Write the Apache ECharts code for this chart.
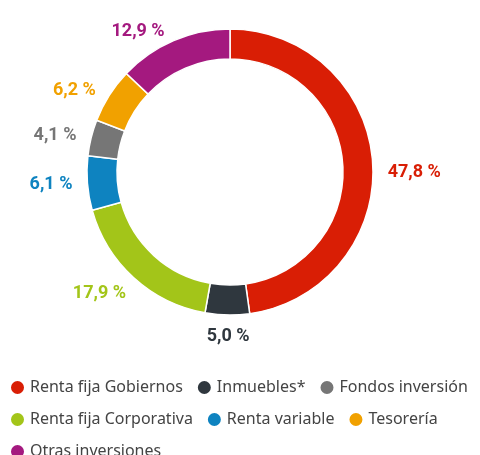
<!DOCTYPE html>
<html>
<head>
<meta charset="utf-8">
<script src="https://cdn.jsdelivr.net/npm/echarts@6/dist/echarts.min.js"></script>
<style>
  html, body { margin: 0; padding: 0; background: #fff; }
  #main { width: 480px; height: 455px; }
</style>
</head>
<body>
<div id="main"></div>
<script>
// categories in the order they go round the ring (clockwise from top)
var categories = ["Renta fija Gobiernos", "Inmuebles*", "Renta fija Corporativa", "Renta variable", "Fondos inversión", "Tesorería", "Otras inversiones"];
var values = [47.8, 5.0, 17.9, 6.1, 4.1, 6.2, 12.9];
var colors = ["#d91e05", "#2f373e", "#a3c519", "#0e83c0", "#767676", "#f1a100", "#a4197f"];
// legend order as printed under the chart
var legendOrder = ["Renta fija Gobiernos", "Inmuebles*", "Fondos inversión", "Renta fija Corporativa", "Renta variable", "Tesorería", "Otras inversiones"];

var chart = echarts.init(document.getElementById("main"));

var data = categories.map(function (name, i) {
  return {
    name: name,
    value: values[i],
    itemStyle: { color: colors[i] },
    label: { color: colors[i] }
  };
});

chart.setOption({
  animation: false,
  legend: {
    data: legendOrder,
    left: 9,
    top: 378,
    width: 480,
    icon: "circle",
    itemWidth: 15,
    itemHeight: 15,
    itemGap: 13,
    textStyle: {
      fontFamily: "Noto Sans",
      fontSize: 16,
      lineHeight: 19,
      color: "#444"
    },
    padding: 0
  },
  series: [
    {
      type: "pie",
      center: [230, 172],
      radius: [113, 143],
      startAngle: 90,
      clockwise: true,
      itemStyle: {
        borderColor: "#fff",
        borderWidth: 1.5
      },
      label: {
        show: true,
        position: "outside",
        fontFamily: "Roboto",
        fontWeight: "bold",
        fontSize: 18,
        formatter: function (p) {
          return p.value.toFixed(1).replace(".", ",") + " %";
        }
      },
      labelLine: { show: false, length: 10, length2: 0 },
      labelLayout: function (p) {
        // small nudges so the labels sit like the printed ones
        if (p.dataIndex === 0) return { dy: 11 };
        if (p.dataIndex === 1) return { align: "center", dx: 6, dy: 12 };
        if (p.dataIndex === 2) return { dx: 4, dy: 8 };
      },
      data: data
    }
  ]
});
</script>
</body>
</html>
